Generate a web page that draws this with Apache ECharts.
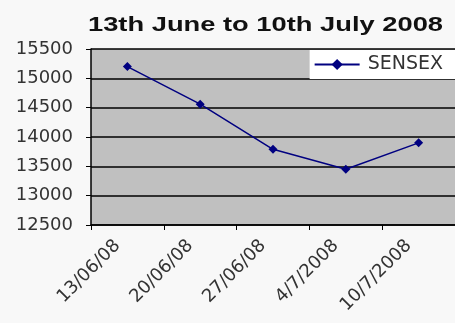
<!DOCTYPE html>
<html><head><meta charset="utf-8">
<script src="https://cdn.jsdelivr.net/npm/echarts@6/dist/echarts.min.js"></script>
<style>html,body{margin:0;padding:0;background:#f8f8f8}#c{width:455px;height:323px}</style>
</head><body><div id="c"></div>
<script>
const titleText = '13th June to 10th July 2008';
const categories = ['13/06/08', '20/06/08', '27/06/08', '4/7/2008', '10/7/2008'];
const seriesName = 'SENSEX';
const sensex = [15200, 14560, 13790, 13450, 13900];
const yMin = 12500, yMax = 15500, yStep = 500;

const chart = echarts.init(document.getElementById('c'));
chart.setOption({
  backgroundColor: '#f8f8f8',
  animation: false,
  graphic: [{
    type: 'text', left: 88, top: 15, scaleX: 1.3, originX: 0,
    style: { text: titleText, font: 'bold 21px "Liberation Sans", Arial, sans-serif', fill: '#111' }
  }],
  grid: { left: 91, right: 0, top: 49, bottom: 98, show: true, backgroundColor: '#c0c0c0', borderWidth: 0 },
  legend: {
    data: [seriesName], right: 0, top: 50,
    backgroundColor: '#ffffff', padding: [5, 12, 5, 4],
    itemWidth: 45, itemHeight: 14,
    formatter: '{a|{name}}',
    textStyle: { fontFamily: 'DejaVu Sans', fontSize: 19, color: '#333', lineHeight: 15,
      rich: { a: { fontFamily: 'DejaVu Sans', fontSize: 19, color: '#333', lineHeight: 15, padding: [0, 0, 0, 3] } } }
  },
  xAxis: {
    type: 'category', data: categories, boundaryGap: true,
    axisLine: { lineStyle: { color: '#000', width: 1.5 } },
    axisTick: { show: true, length: 5, lineStyle: { color: '#000' } },
    axisLabel: { rotate: 45, interval: 0, margin: 8,
      formatter: v => '{a|' + v + '}{s| }',
      rich: { a: { fontFamily: 'DejaVu Sans', fontSize: 18, color: '#333' }, s: { width: 14, fontSize: 18 } } }
  },
  yAxis: {
    type: 'value', min: yMin, max: yMax, interval: yStep,
    axisLine: { show: true, lineStyle: { color: '#000', width: 1.5 } },
    axisTick: { show: true, length: 5, lineStyle: { color: '#000' } },
    splitLine: { lineStyle: { color: '#000', width: 1.5 } },
    axisLabel: { fontFamily: 'DejaVu Sans', fontSize: 18, color: '#333', margin: 18, formatter: v => String(v) }
  },
  series: [{
    name: seriesName, type: 'line', data: sensex,
    symbol: 'diamond', symbolSize: 9,
    lineStyle: { color: '#000080', width: 1.5 },
    itemStyle: { color: '#000080' }
  }]
});
</script></body></html>
